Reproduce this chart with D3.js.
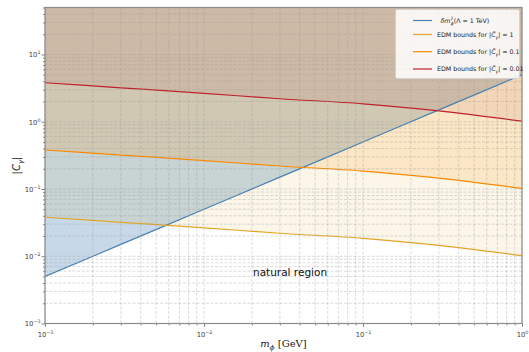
<!DOCTYPE html>
<html>
<head>
<meta charset="utf-8">
<script src="https://cdn.jsdelivr.net/npm/d3@7"></script>
<style>
  body { margin: 0; background: #fff; }
  text { font-family: "DejaVu Sans", sans-serif; }
</style>
</head>
<body>
<div id="chart"></div>
<script>
// data
const mass   = [0.001, 0.003, 0.01, 0.03, 0.1, 0.3, 1];          // m_phi [GeV]
const deltaM = [0.005, 0.015, 0.05, 0.15, 0.5, 1.5, 5];          // dm^2 (Lambda = 1 TeV)
const edm1   = [0.038, 0.032, 0.0265, 0.022, 0.0185, 0.0145, 0.0102];
const edm01  = [0.38, 0.32, 0.265, 0.22, 0.185, 0.145, 0.102];
const edm001 = [3.8, 3.2, 2.65, 2.2, 1.85, 1.45, 1.02];

const xTicks = [1e-3, 1e-2, 1e-1, 1];
const xTickExp = ["\u22123", "\u22122", "\u22121", "0"];
const yTicks = [1e-3, 1e-2, 1e-1, 1, 10];
const yTickExp = ["\u22123", "\u22122", "\u22121", "0", "1"];

const W = 529, H = 352;
const margin = { top: 7.5, right: 7, bottom: 28.5, left: 45 };
const width = W - margin.left - margin.right;
const height = H - margin.top - margin.bottom;

const svg = d3.select('#chart').append('svg')
  .attr('width', W)
  .attr('height', H);

const g = svg.append('g')
  .attr('transform', `translate(${margin.left},${margin.top})`);

const x = d3.scaleLog().domain([1e-3, 1]).range([0, width]);
const y = d3.scaleLog().domain([1e-3, 50]).range([height, 0]);

// minor tick positions (2..9 in every decade)
const minorX = [], minorY = [];
[1e-3, 1e-2, 1e-1].forEach(d => { for (let k = 2; k < 10; k++) minorX.push(d * k); });
[1e-3, 1e-2, 1e-1, 1, 10].forEach(d => { for (let k = 2; k < 10; k++) if (d * k <= 50) minorY.push(d * k); });

g.append('clipPath').attr('id', 'clip')
  .append('rect').attr('width', width).attr('height', height);

const series = [
  { vals: deltaM, line: '#4682b4', fill: '#4682b4', alpha: 0.3,  label: 'dm' },
  { vals: edm1,   line: '#e3a628', fill: '#daa520', alpha: 0.1,  label: '1' },
  { vals: edm01,  line: '#ff8a00', fill: '#ff8c00', alpha: 0.15, label: '0.1' },
  { vals: edm001, line: '#c0202a', fill: '#a52a2a', alpha: 0.09, label: '0.01' }
];

const plot = g.append('g').attr('clip-path', 'url(#clip)');

// shaded regions above each curve
series.forEach(s => {
  const area = d3.area()
    .x((d, i) => x(mass[i]))
    .y0(0)
    .y1(d => y(d))
    .curve(d3.curveMonotoneX);
  plot.append('path')
    .datum(s.vals)
    .attr('d', area)
    .attr('fill', s.fill)
    .attr('fill-opacity', s.alpha);
});

// grid, major + minor, dashed
const grid = g.append('g').attr('stroke', '#9a9a9a').attr('stroke-opacity', 0.6)
  .attr('stroke-width', 0.6).attr('stroke-dasharray', '3,1.6');
grid.selectAll('.gx').data(xTicks.concat(minorX)).enter().append('line')
  .attr('x1', d => x(d)).attr('x2', d => x(d)).attr('y1', 0).attr('y2', height);
grid.selectAll('.gy').data(yTicks.concat(minorY)).enter().append('line')
  .attr('y1', d => y(d)).attr('y2', d => y(d)).attr('x1', 0).attr('x2', width);

// curves
series.forEach(s => {
  const line = d3.line()
    .x((d, i) => x(mass[i]))
    .y(d => y(d))
    .curve(d3.curveMonotoneX);
  plot.append('path')
    .datum(s.vals)
    .attr('d', line)
    .attr('fill', 'none')
    .attr('stroke', s.line)
    .attr('stroke-width', 1.2);
});

// axes
const xAxis = g.append('g').attr('transform', `translate(0,${height})`)
  .call(d3.axisBottom(x).tickValues(xTicks).tickSize(3.5).tickFormat(''));
g.append('g').attr('transform', `translate(0,${height})`)
  .call(d3.axisBottom(x).tickValues(minorX).tickSize(2).tickFormat(''));
const yAxis = g.append('g')
  .call(d3.axisLeft(y).tickValues(yTicks).tickSize(3.5).tickFormat(''));
g.append('g')
  .call(d3.axisLeft(y).tickValues(minorY).tickSize(2).tickFormat(''));
g.selectAll('.domain').remove();
g.selectAll('.tick line').attr('stroke', '#555').attr('stroke-width', 0.7);

xAxis.selectAll('.tick').each(function(d, i) {
  const t = d3.select(this).append('text')
    .attr('y', 13).attr('text-anchor', 'middle')
    .attr('fill', '#444').attr('font-size', 6.8);
  t.append('tspan').text('10');
  t.append('tspan').attr('dy', -3).attr('font-size', 4.8).text(xTickExp[i]);
});
yAxis.selectAll('.tick').each(function(d, i) {
  const t = d3.select(this).append('text')
    .attr('x', -4.5).attr('dy', 2.3).attr('text-anchor', 'end')
    .attr('fill', '#444').attr('font-size', 6.8);
  t.append('tspan').text('10');
  t.append('tspan').attr('dy', -3).attr('font-size', 4.8).text(yTickExp[i]);
});

// frame
g.append('rect').attr('width', width).attr('height', height)
  .attr('fill', 'none').attr('stroke', '#8a8a8a').attr('stroke-width', 1.2);

// axis labels
const xl = svg.append('text')
  .attr('x', margin.left + width / 2).attr('y', 347)
  .attr('text-anchor', 'middle').attr('font-size', 10).attr('fill', '#222')
  .style('font-family', '"DejaVu Serif", serif');
xl.append('tspan').attr('font-style', 'italic').text('m');
xl.append('tspan').attr('dy', 2.5).attr('font-size', 7).attr('font-style', 'italic').text('\u03d5');
xl.append('tspan').attr('dy', -2.5).text(' [GeV]');

const yl = svg.append('text')
  .attr('transform', `translate(20,${margin.top + height / 2}) rotate(-90)`)
  .attr('text-anchor', 'middle').attr('font-size', 10).attr('fill', '#222');
yl.append('tspan').text('|');
yl.append('tspan').attr('font-style', 'italic').text('C');
yl.append('tspan').attr('dy', 2.5).attr('font-size', 7).attr('font-style', 'italic').text('\u03b3');
yl.append('tspan').attr('dy', -2.5).text('|');

svg.append('text')
  .attr('x', 253).attr('y', 275.5)
  .attr('font-size', 10.5).attr('fill', '#111')
  .text('natural region');

// legend
const legend = svg.append('g');
legend.append('rect')
  .attr('x', 395.5).attr('y', 9.5).attr('width', 124).attr('height', 69)
  .attr('rx', 2).attr('fill', '#fff').attr('fill-opacity', 0.85)
  .attr('stroke', '#d0d0d0').attr('stroke-width', 0.8);
const legendY = [20.5, 34.5, 51.7, 69];
series.forEach((s, i) => {
  const ly = legendY[i];
  legend.append('line')
    .attr('x1', 413).attr('x2', 432).attr('y1', ly).attr('y2', ly)
    .attr('stroke', s.line).attr('stroke-width', 1.2);
  const t = legend.append('text')
    .attr('x', i === 0 ? 440.5 : 437).attr('y', ly + 2.3)
    .attr('font-size', 6.3).attr('fill', '#222');
  if (i === 0) {
    t.append('tspan').attr('font-style', 'italic').text('\u03b4m');
    t.append('tspan').attr('dy', -2.6).attr('font-size', 4.4).text('2');
    t.append('tspan').attr('dx', -2.5).attr('dy', 4.8).attr('font-size', 4.4).attr('font-style', 'italic').text('\u03d5');
    t.append('tspan').attr('dy', -2.2).text('(\u039b = 1 TeV)');
  } else {
    t.append('tspan').text('EDM bounds for |');
    t.append('tspan').attr('font-style', 'italic').text('C\u0303');
    t.append('tspan').attr('dy', 1.9).attr('font-size', 4.4).attr('font-style', 'italic').text('\u03b3');
    t.append('tspan').attr('dy', -1.9).text('| = ' + s.label);
  }
});
</script>
</body>
</html>
